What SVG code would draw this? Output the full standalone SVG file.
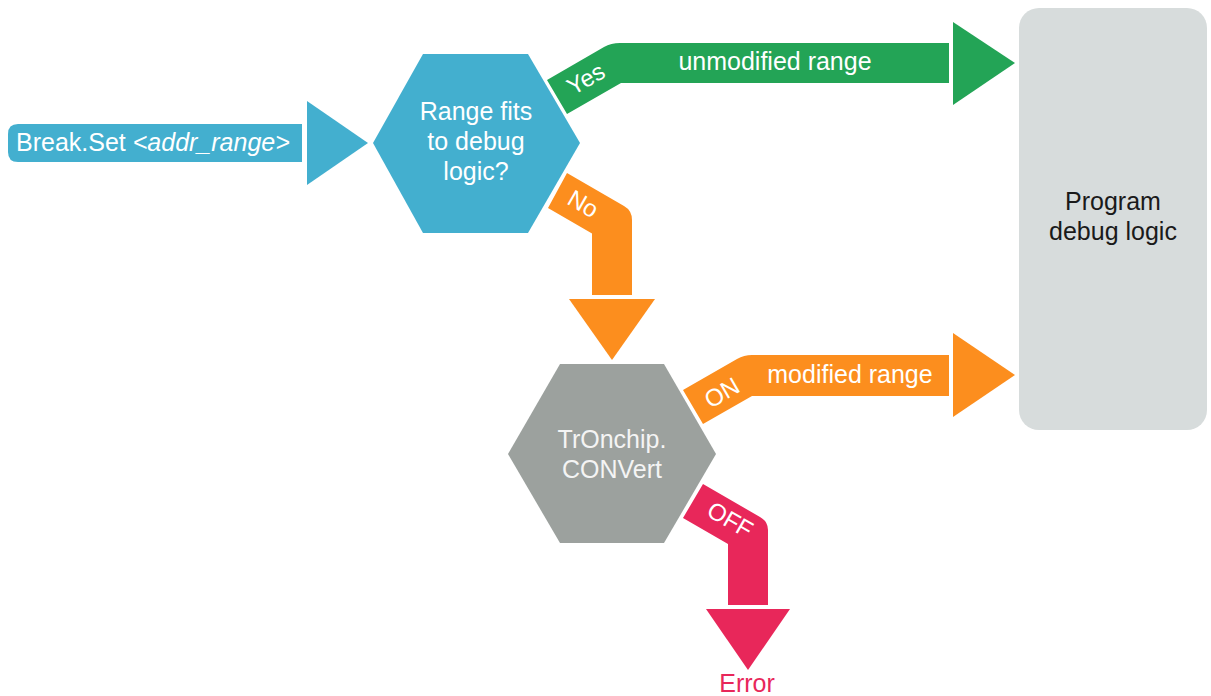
<svg xmlns="http://www.w3.org/2000/svg" width="1211" height="696" viewBox="0 0 1211 696">
<style>
text{font-family:"Liberation Sans",Arial,Helvetica,sans-serif;font-size:25px;}
.w{fill:#ffffff;}
.c{text-anchor:middle;}
.lbl{font-size:24px;}
.blue{fill:#43afcf;}
.green{fill:#23a456;}
.orange{fill:#fc8e1e;}
.crim{fill:#e8275a;}
.grey{fill:#9ca19e;}
</style>
<rect width="1211" height="696" fill="#ffffff"/>
<g id="connectors">
  <g id="input-arrow">
    <path class="blue" d="M302 124 L18 124 Q8 124 8 134 L8 152 Q8 162 18 162 L302 162 Z"/>
    <path class="blue" d="M307 101 L368 143 L307 185 Z"/>
    <text x="16" y="151" class="w">Break.Set <tspan font-style="italic">&lt;addr_range&gt;</tspan></text>
  </g>
  <g id="yes-arrow">
    <path class="green" d="M547 80 L604 47 Q611 43 620 43 L949 43 L949 83 L621 83 L567 114 Z"/>
    <path class="green" d="M953 22 L1015 63 L953 105 Z"/>
    <text x="586" y="87" class="w c lbl" transform="rotate(-30 586 79)">Yes</text>
    <text x="775" y="70" class="w c">unmodified range</text>
  </g>
  <g id="no-arrow">
    <path class="orange" d="M567 173 L624 206 Q632 210.5 632 220 L632 295 L592 295 L592 233.4 L548 208 Z"/>
    <path class="orange" d="M569 299 L655 299 L612 360 Z"/>
    <text x="583" y="212" class="w c lbl" transform="rotate(30 583 204)">No</text>
  </g>
  <g id="on-arrow">
    <path class="orange" d="M683 390 L737 359 Q744 355 752 355 L949 355 L949 396 L752 396 L703 424 Z"/>
    <path class="orange" d="M953 333 L1015 375 L953 417 Z"/>
    <text x="722" y="401" class="w c lbl" transform="rotate(-30 722 393)">ON</text>
    <text x="850" y="383" class="w c">modified range</text>
  </g>
  <g id="off-arrow">
    <path class="crim" d="M703 484 L760 517 Q768 521.5 768 530 L768 605 L728 605 L728 544 L683 518 Z"/>
    <path class="crim" d="M706 609 L790 609 L748 670 Z"/>
    <text x="730" y="528" class="w c lbl" transform="rotate(30 730 520)">OFF</text>
    <text x="747" y="692" class="c" fill="#e8275a">Error</text>
  </g>
</g>
<g id="node-range-fits">
  <path class="blue" d="M373 143 L423 54 L528 54 L580 143 L528 233 L423 233 Z"/>
  <text x="476" y="120" class="w c">Range fits</text>
  <text x="476" y="150" class="w c">to debug</text>
  <text x="476" y="180" class="w c">logic?</text>
</g>
<g id="node-tronchip">
  <path class="grey" d="M508 454 L560 364 L664 364 L716 454 L664 543 L560 543 Z"/>
  <text x="612" y="448" class="c" fill="#f4f4f4">TrOnchip.</text>
  <text x="612" y="478" class="c" fill="#f4f4f4">CONVert</text>
</g>
<g id="node-program-debug">
  <rect x="1019" y="8" width="188" height="422" rx="20" fill="#d7dcdc"/>
  <text x="1113" y="210" class="c" fill="#1a1a1a">Program</text>
  <text x="1113" y="240" class="c" fill="#1a1a1a">debug logic</text>
</g>
</svg>
